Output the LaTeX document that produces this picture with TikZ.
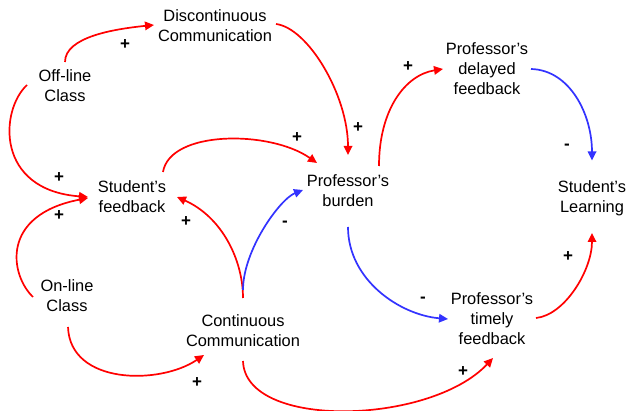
\documentclass[tikz,border=0pt]{standalone}
\usepackage{fontspec}
\setmainfont{Liberation Sans}
\usetikzlibrary{arrows.meta}
\definecolor{posred}{RGB}{255,0,0}
\definecolor{negblue}{RGB}{51,51,255}
\tikzset{
  var/.style={align=center, inner sep=0pt, text=black,
    font=\fontsize{16.4}{20}\selectfont},
  link/.style={line width=1.7pt, -{Triangle[length=9pt,width=8.5pt]}},
  poslink/.style={link, draw=posred},
  neglink/.style={link, draw=negblue},
  sign/.style={inner sep=0pt, font=\fontsize{17}{17}\selectfont\bfseries}
}
\begin{document}
\begin{tikzpicture}[x=1pt,y=-1pt]
\useasboundingbox[fill=white] (0,0) rectangle (626,411);

% variables
\node[var] (disc) at (215,25.5) {Discontinuous\\Communication};
\node[var] (off)  at (65,86)    {Off-line\\Class};
\node[var] (sfb)  at (132,197)  {Student's\\feedback};
\node[var] (pb)   at (348,191)  {Professor's\\burden};
\node[var] (pdf)  at (487,69)   {Professor's\\delayed\\feedback};
\node[var] (sl)   at (592,198.5){Student's\\Learning};
\node[var] (on)   at (67,296)   {On-line\\Class};
\node[var] (cc)   at (243,331)  {Continuous\\Communication};
\node[var] (ptf)  at (492,319)  {Professor's\\timely\\feedback};

% causal links
\draw[poslink] ([shift={(0,-24)}]off.center) .. controls +(0,-25) and +(-40,4) .. ([shift={(-61,-0.5)}]disc.center);
\draw[poslink] ([shift={(61,-1.5)}]disc.center) .. controls +(32,4) and +(0,-60) .. ([shift={(0,-36)}]pb.center);
\draw[poslink] ([shift={(-38,-1)}]off.center) .. controls (0,110) and (-5,190) .. ([shift={(-44,0)}]sfb.center);
\draw[poslink] ([shift={(-34,1)}]on.center) .. controls (10,275) and (0,215) .. ([shift={(-44,1)}]sfb.center);
\draw[poslink] ([shift={(31,-25)}]sfb.center) .. controls (170,130) and (270,130) .. ([shift={(-31,-28)}]pb.center);
\draw[poslink] ([shift={(0,-33)}]cc.center) .. controls +(0,-38) and +(45,20) .. ([shift={(45,0)}]sfb.center);
\draw[neglink] ([shift={(0,-41)}]cc.center) .. controls +(0,-40) and +(-23,9) .. ([shift={(-45,-1)}]pb.center);
\draw[poslink] ([shift={(1,31)}]on.center) .. controls (70,385) and (160,385) .. ([shift={(-39,24)}]cc.center);
\draw[poslink] ([shift={(0,30)}]cc.center) .. controls (245,430) and (430,425) .. ([shift={(1,39)}]ptf.center);
\draw[poslink] ([shift={(31,-25)}]pb.center) .. controls +(0,-56) and +(-38,6) .. ([shift={(-44,0)}]pdf.center);
\draw[neglink] ([shift={(44,0)}]pdf.center) .. controls +(39,1) and +(0,-46) .. ([shift={(0,-38)}]sl.center);
\draw[neglink] ([shift={(0,36)}]pb.center) .. controls +(0,53) and +(-48,-4) .. ([shift={(-44,0)}]ptf.center);
\draw[poslink] ([shift={(44,-1)}]ptf.center) .. controls +(29,-3) and +(0,37) .. ([shift={(0,34.5)}]sl.center);

% link polarities
\node[sign] (s1)  at (125,45)  {+};
\node[sign] (s2)  at (358,128) {+};
\node[sign] (s3)  at (59,178)  {+};
\node[sign] (s4)  at (59,216)  {+};
\node[sign] (s5)  at (297,138) {+};
\node[sign] (s6)  at (186,222) {+};
\node[sign] (s7)  at (285,224) {-};
\node[sign] (s8)  at (197,383) {+};
\node[sign] (s9)  at (463,372) {+};
\node[sign] (s10) at (408,67)  {+};
\node[sign] (s11) at (567,147) {-};
\node[sign] (s12) at (423,300) {-};
\node[sign] (s13) at (568,257) {+};
\end{tikzpicture}
\end{document}
